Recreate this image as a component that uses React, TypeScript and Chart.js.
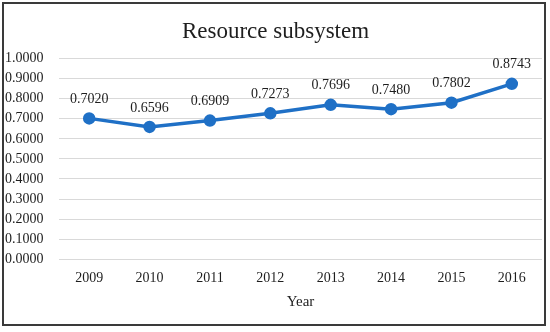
import React, { useEffect, useRef } from "react";
import { Chart, registerables } from "chart.js";

Chart.register(...registerables);

const years = ["2009", "2010", "2011", "2012", "2013", "2014", "2015", "2016"];
const resourceValues = [0.702, 0.6596, 0.6909, 0.7273, 0.7696, 0.748, 0.7802, 0.8743];
const yMin = 0;
const yMax = 1;
const yStep = 0.1;
const titleText = "Resource subsystem";
const xTitle = "Year";

const FONT = "'Liberation Serif', 'Times New Roman', serif";
const TEXT = "#1e1e1e";
const BLUE = "#1F70C6";

const dataLabelPlugin = {
  id: "dataLabels",
  afterDatasetsDraw(chart: any) {
    const ctx = chart.ctx;
    const meta = chart.getDatasetMeta(0);
    const data = chart.data.datasets[0].data as number[];
    ctx.save();
    ctx.font = `14px ${FONT}`;
    ctx.fillStyle = TEXT;
    ctx.textAlign = "center";
    ctx.textBaseline = "middle";
    meta.data.forEach((pt: any, i: number) => {
      ctx.fillText(data[i].toFixed(4), pt.x, pt.y - 19);
    });
    ctx.restore();
  },
};

export default function App() {
  const ref = useRef<HTMLCanvasElement>(null);
  useEffect(() => {
    document.body.style.margin = "0";
    const chart = new Chart(ref.current!, {
      type: "line",
      data: {
        labels: years,
        datasets: [
          {
            data: resourceValues,
            borderColor: BLUE,
            backgroundColor: BLUE,
            borderWidth: 3.5,
            pointRadius: 4.5,
            pointBackgroundColor: BLUE,
            pointBorderColor: BLUE,
            tension: 0,
          },
        ],
      },
      options: {
        animation: false,
        responsive: false,
        layout: { padding: { left: 5, right: 4, top: 0, bottom: 17 } },
        plugins: {
          legend: { display: false },
          tooltip: { enabled: false },
          title: {
            display: true,
            text: titleText,
            color: TEXT,
            font: { family: FONT, size: 23, weight: "normal" },
            padding: { top: 18, bottom: 13 },
          },
        },
        scales: {
          x: {
            offset: true,
            grid: { display: false, drawTicks: false },
            border: { display: false },
            ticks: { color: TEXT, font: { family: FONT, size: 14 }, padding: 11 },
            title: {
              display: true,
              text: xTitle,
              color: TEXT,
              font: { family: FONT, size: 15 },
              padding: { top: -5, bottom: 4 },
            },
          },
          y: {
            min: yMin,
            max: yMax,
            grid: { color: "#d9d9d9", lineWidth: 1, drawTicks: false },
            border: { display: false },
            ticks: {
              stepSize: yStep,
              autoSkip: false,
              crossAlign: "far",
              color: TEXT,
              font: { family: FONT, size: 14 },
              callback: (v: any) => Number(v).toFixed(4),
            },
            afterFit: (s: any) => {
              s.width = 54;
            },
          },
        },
      },
      plugins: [dataLabelPlugin],
    });
    return () => chart.destroy();
  }, []);
  return (
    <div style={{ position: "relative", width: 550, height: 332, background: "#fff" }}>
      <canvas ref={ref} width={550} height={332} style={{ display: "block" }} />
      <div
        style={{
          position: "absolute",
          left: 2,
          top: 2,
          width: 544,
          height: 324,
          boxSizing: "border-box",
          border: "2px solid #3a3a3a",
          pointerEvents: "none",
        }}
      />
    </div>
  );
}
